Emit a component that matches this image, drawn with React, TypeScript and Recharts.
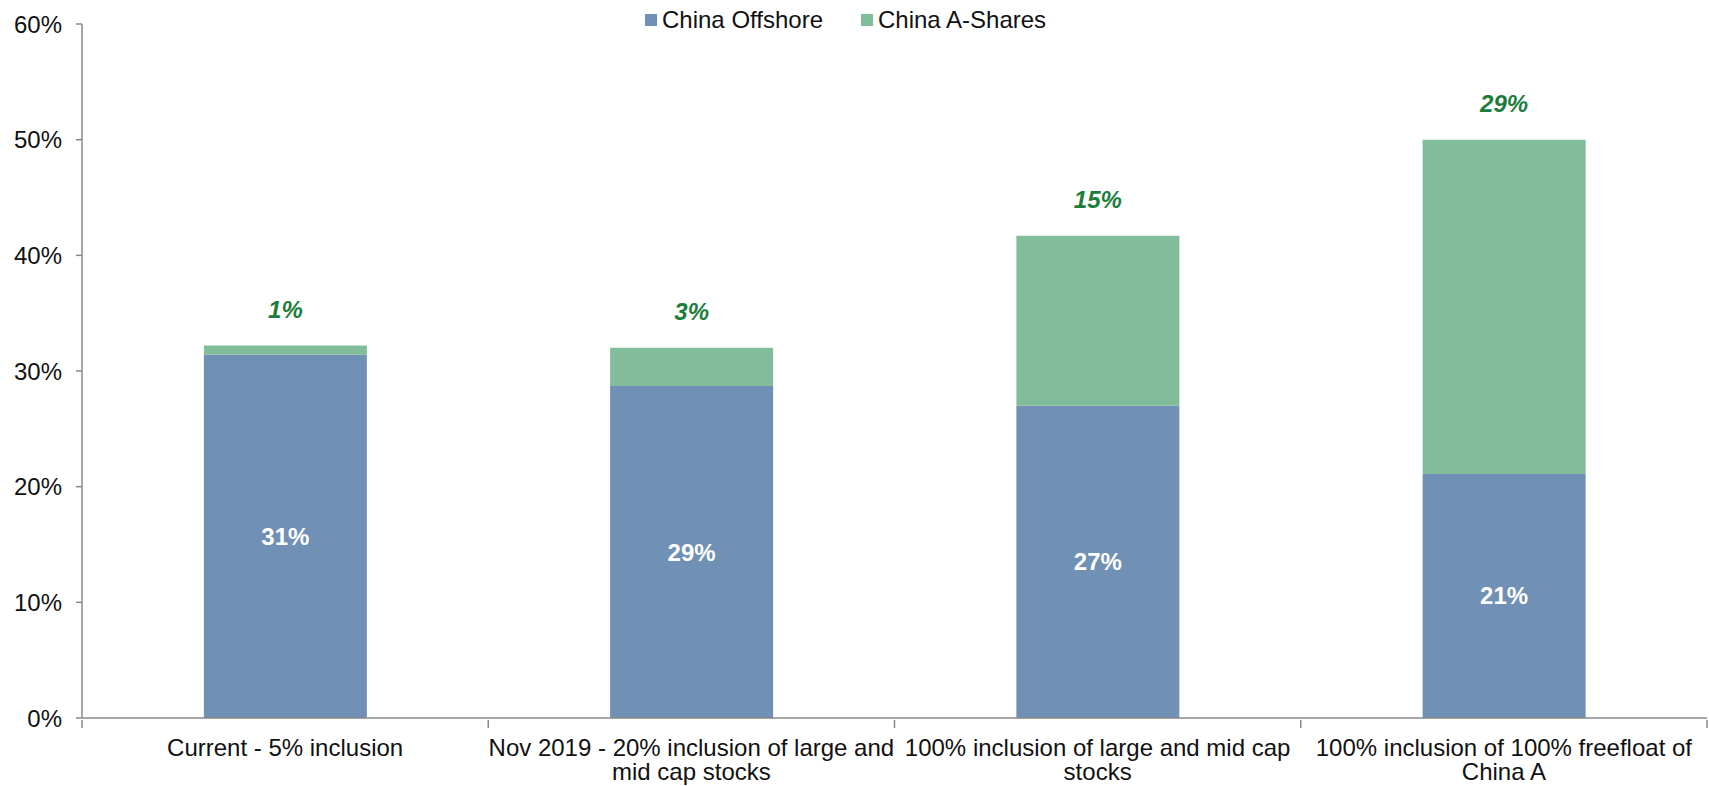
import React from "react";
import {
  BarChart,
  Bar,
  XAxis,
  YAxis,
  Legend,
  LabelList,
} from "recharts";

const categories = [
  "Current - 5% inclusion",
  "Nov 2019 - 20% inclusion of large and\nmid cap stocks",
  "100% inclusion of large and mid cap\nstocks",
  "100% inclusion of 100% freefloat of\nChina A",
];
const seriesNames = ["China Offshore", "China A-Shares"];
const offshore = [31.4, 28.7, 27.0, 21.1];
const aShares = [0.8, 3.3, 14.7, 28.9];
const yTicks = [0, 10, 20, 30, 40, 50, 60];

const data = categories.map((name, i) => ({
  name,
  offshore: offshore[i],
  aShares: aShares[i],
}));

const FONT = '"Liberation Sans", Arial, sans-serif';
const BLUE = "#7090B6";
const GREEN = "#82BD9B";
const AXIS = "#888888";

const pct = (v: any) => `${Math.round(Number(v))}%`;

function CategoryTick(props: any) {
  const { x, y, payload, index } = props;
  const half = payload?.offset ?? 0;
  const lines = String(payload.value).split("\n");
  return (
    <g>
      <line x1={x - half} y1={y - 8} x2={x - half} y2={y} stroke={AXIS} strokeWidth={1.5} />
      {index === categories.length - 1 && (
        <line x1={x + half} y1={y - 8} x2={x + half} y2={y} stroke={AXIS} strokeWidth={1.5} />
      )}
      <text textAnchor="middle" fontFamily={FONT} fontSize={24} fill="#111">
        {lines.map((l, i) => (
          <tspan key={i} x={x} y={y + 28 + i * 24}>
            {l}
          </tspan>
        ))}
      </text>
    </g>
  );
}

function LegendContent(props: any) {
  const items = [...(props.payload || [])].sort(
    (a: any, b: any) => seriesNames.indexOf(a.value) - seriesNames.indexOf(b.value)
  );
  return (
    <div style={{ display: "flex", alignItems: "center", fontFamily: FONT, fontSize: 24, color: "#111", whiteSpace: "nowrap" }}>
      {items.map((it: any, i: number) => (
        <div key={i} style={{ display: "flex", alignItems: "center", marginRight: 38 }}>
          <span style={{ width: 12, height: 12, background: it.color, display: "inline-block", marginRight: 5 }} />
          <span>{it.value}</span>
        </div>
      ))}
    </div>
  );
}

export default function App() {
  return (
    <div>
      <style>{`body{margin:0;background:#fff}`}</style>
      <BarChart
        width={1709}
        height={786}
        data={data}
        margin={{ top: 24, right: 2, left: 10, bottom: 8 }}
        barCategoryGap="30%"
      >
        <XAxis
          dataKey="name"
          interval={0}
          height={60}
          axisLine={{ stroke: AXIS, strokeWidth: 1.5 }}
          tickLine={false}
          tickSize={8}
          tick={<CategoryTick />}
        />
        <YAxis
          domain={[0, 60]}
          ticks={yTicks}
          width={72}
          tickFormatter={(v) => `${v}%`}
          axisLine={{ stroke: AXIS, strokeWidth: 1.5 }}
          tickLine={{ stroke: AXIS, strokeWidth: 1.5 }}
          tickSize={6}
          tickMargin={14}
          tick={{ fill: "#111", fontSize: 24, fontFamily: FONT }}
        />
        <Legend
          verticalAlign="middle"
          align="center"
          content={<LegendContent />}
          wrapperStyle={{ top: 6, left: 645, width: 520 }}
        />
        <Bar dataKey="offshore" name={seriesNames[0]} stackId="a" fill={BLUE} isAnimationActive={false}>
          <LabelList
            dataKey="offshore"
            position="center"
            formatter={pct}
            fill="#fff"
            fontSize={24}
            fontWeight="bold"
            fontFamily={FONT}
          />
        </Bar>
        <Bar dataKey="aShares" name={seriesNames[1]} stackId="a" fill={GREEN} isAnimationActive={false}>
          <LabelList
            dataKey="aShares"
            position="top"
            offset={28}
            formatter={pct}
            fill="#1C7D3A"
            fontSize={24}
            fontWeight="bold"
            fontStyle="italic"
            fontFamily={FONT}
          />
        </Bar>
      </BarChart>
    </div>
  );
}
